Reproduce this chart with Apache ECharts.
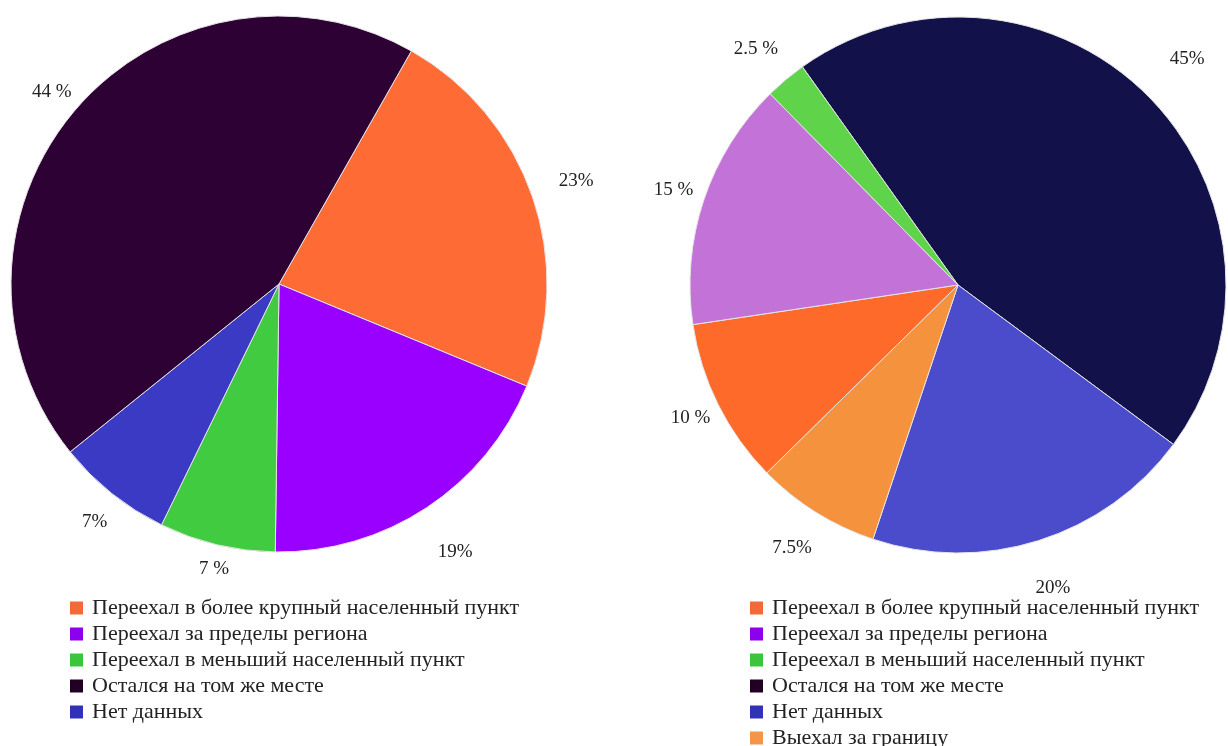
<!DOCTYPE html>
<html>
<head>
<meta charset="utf-8">
<script src="https://cdn.jsdelivr.net/npm/echarts@6/dist/echarts.min.js"></script>
<style>
html,body{margin:0;padding:0;background:#fff;}
#c{width:1228px;height:746px;}
</style>
</head>
<body>
<div id="c"></div>
<script>
// ---- data ----
const leftNames = ['Переехал в более крупный населенный пункт','Переехал за пределы региона','Переехал в меньший населенный пункт','Нет данных','Остался на том же месте'];
const leftValues = [23, 19, 7, 7, 44];
const leftLabels = ['23%', '19%', '7 %', '7%', '44 %'];

const rightNames = ['Остался на том же месте','Нет данных','Выехал за границу','Переехал в более крупный населенный пункт','Переехал за пределы региона','Переехал в меньший населенный пункт'];
const rightValues = [45, 20, 7.5, 10, 15, 2.5];
const rightLabels = ['45%', '20%', '7.5%', '10 %', '15 %', '2.5 %'];

const leftLegendOrder = ['Переехал в более крупный населенный пункт','Переехал за пределы региона','Переехал в меньший населенный пункт','Остался на том же месте','Нет данных'];
const rightLegendOrder = ['Переехал в более крупный населенный пункт','Переехал за пределы региона','Переехал в меньший населенный пункт','Остался на том же месте','Нет данных','Выехал за границу'];

// ---- styles ----
const leftColors = ['#fe6b35', '#9a00ff', '#40cb40', '#3a3ac4', '#2e0134'];
const rightColors = ['#13114a', '#4b4ccc', '#f5923e', '#fe6a2a', '#c373d8', '#5fd44a'];
const leftLabelDist = [47, 53, 25, 36, 28];
const rightLabelDist = [54, 50, 42, 29, 30, 40];
const legendColors = {
  'Переехал в более крупный населенный пункт': '#f26a3a',
  'Переехал за пределы региона': '#8c00ee',
  'Переехал в меньший населенный пункт': '#3cc43c',
  'Остался на том же месте': '#220024',
  'Нет данных': '#3232b8',
  'Выехал за границу': '#f4954a'
};

const FONT = '"Liberation Serif", "DejaVu Serif", serif';

function buildData(names, values, labels, colors, dists) {
  return names.map((n, i) => ({
    name: n,
    value: values[i],
    itemStyle: { color: colors[i] },
    label: { formatter: labels[i] },
    labelLine: { length: dists[i], length2: 0 }
  }));
}

function buildLegend(order, left) {
  return {
    orient: 'vertical',
    left: left,
    top: 597,
    height: 160,
    padding: 0,
    icon: 'rect',
    itemWidth: 13,
    itemHeight: 13,
    itemGap: 4,
    selectedMode: false,
    itemStyle: { borderWidth: 0 },
    textStyle: { fontFamily: FONT, fontSize: 22, color: '#222', lineHeight: 21, padding: [0, 0, 0, 4] },
    data: order.map(n => ({ name: n, itemStyle: { color: legendColors[n], borderWidth: 0 } }))
  };
}

const pieBase = {
  type: 'pie',
  radius: 268,
  clockwise: true,
  avoidLabelOverlap: false,
  silent: true,
  itemStyle: { borderColor: '#e4e4e4', borderWidth: 1 },
  label: {
    show: true,
    position: 'outside',
    fontFamily: FONT,
    fontSize: 19,
    color: '#222',
    distanceToLabelLine: -18
  },
  labelLine: { show: false }
};

const chart = echarts.init(document.getElementById('c'), null, { renderer: 'canvas' });
chart.setOption({
  backgroundColor: '#ffffff',
  animation: false,
  legend: [buildLegend(leftLegendOrder, 70), buildLegend(rightLegendOrder, 750)],
  series: [
    Object.assign({}, pieBase, {
      name: 'left',
      center: [279, 284],
      startAngle: 60.4,
      data: buildData(leftNames, leftValues, leftLabels, leftColors, leftLabelDist)
    }),
    Object.assign({}, pieBase, {
      name: 'right',
      center: [958, 285],
      startAngle: 125.5,
      data: buildData(rightNames, rightValues, rightLabels, rightColors, rightLabelDist)
    })
  ]
});
</script>
</body>
</html>
